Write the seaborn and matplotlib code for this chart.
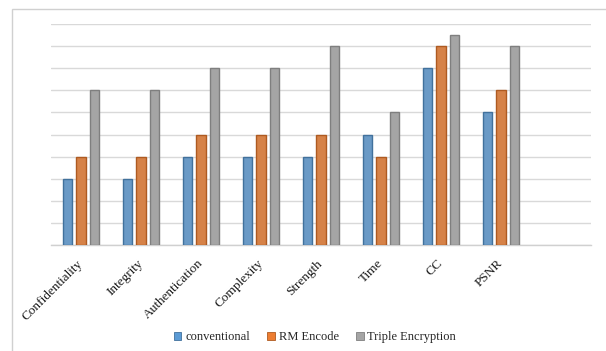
import matplotlib
matplotlib.use("Agg")
import matplotlib.pyplot as plt
import seaborn as sns
import pandas as pd
from matplotlib.patches import Rectangle

categories = ["Confidentiality", "Integrity", "Authentication", "Complexity",
              "Strength", "Time", "CC", "PSNR"]
series = ["conventional", "RM Encode", "Triple Encryption"]
conventional = [3, 3, 4, 4, 4, 5, 8, 6]
rm_encode = [4, 4, 5, 5, 5, 4, 9, 7]
triple_encryption = [7, 7, 8, 8, 9, 6, 9.5, 9]

df = pd.DataFrame({
    "Parameter": categories * 3,
    "Method": [s for s in series for _ in categories],
    "Value": conventional + rm_encode + triple_encryption,
})

fills = ["#5B9BD5", "#ED7D31", "#A5A5A5"]
edges = ["#41719C", "#AE5A21", "#7F7F7F"]

sns.set_theme(style="white")
plt.rcParams["font.family"] = ["Liberation Serif", "DejaVu Serif"]

fig = plt.figure(figsize=(6.06, 3.51), dpi=100)
ax = fig.add_axes([51 / 606, 1 - 245 / 351, 540 / 606, 221 / 351])

sns.barplot(data=df, x="Parameter", y="Value", hue="Method", order=categories,
            hue_order=series, palette=fills, width=0.675, gap=0.26,
            legend=False, ax=ax)

for container, ec in zip(ax.containers, edges):
    for bar in container:
        bar.set_edgecolor(ec)
        bar.set_linewidth(1.0)
        bar.set_zorder(3)

ax.set_xlim(-0.5, 8.5)
ax.set_ylim(0, 10)
ax.set_yticks(range(0, 11))
ax.yaxis.grid(True, color="#D9D9D9", linewidth=1.0, zorder=0)
ax.set_axisbelow(True)
ax.tick_params(axis="y", left=False, labelleft=False)
ax.tick_params(axis="x", bottom=False, pad=6)
ax.set_xticks(range(len(categories)))
ax.set_xticklabels(categories, rotation=45, ha="right", va="center",
                   rotation_mode="anchor", fontsize=9.5, color="#1a1a1a")
ax.set_xlabel("")
ax.set_ylabel("")
for side in ["top", "right", "left"]:
    ax.spines[side].set_visible(False)
ax.spines["bottom"].set_color("#D0D0D0")
ax.spines["bottom"].set_linewidth(1.0)

handles = [Rectangle((0, 0), 1, 1, facecolor=f, edgecolor=e, linewidth=0.6)
           for f, e in zip(fills, edges)]
fig.legend(handles, series, loc="center", bbox_to_anchor=(0.52, 1 - 337 / 351),
           ncol=3, frameon=False, fontsize=9, handlelength=0.6, handleheight=0.6,
           handletextpad=0.3, columnspacing=1.4)

# chart frame
fig.add_artist(Rectangle((12 / 606, -0.1), 1.2, 1 - 9 / 351 + 0.1,
                         transform=fig.transFigure, fill=False,
                         edgecolor="#D0D0D0", linewidth=1.0))

fig.savefig("out.png", dpi=100)
